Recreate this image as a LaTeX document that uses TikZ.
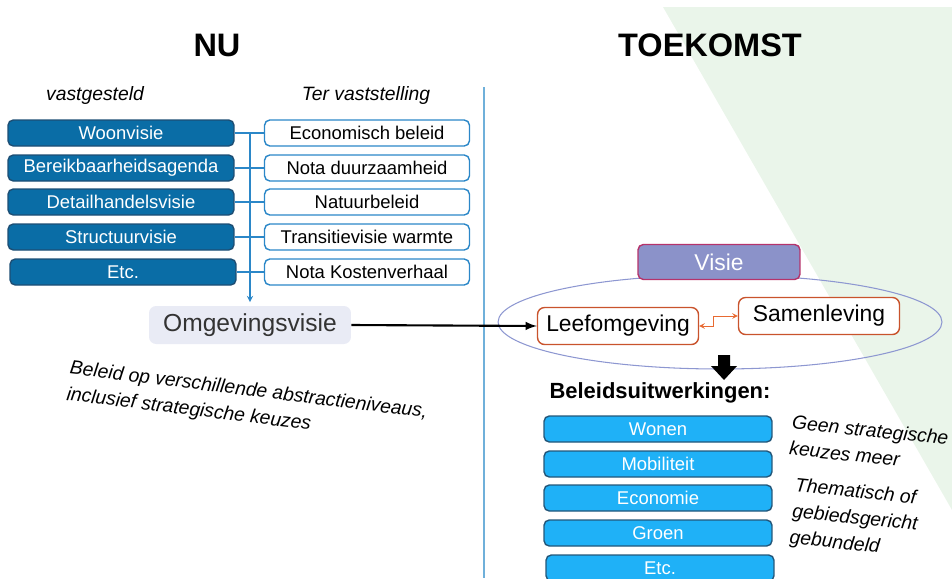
\documentclass[tikz,border=0pt]{standalone}
\usepackage{fontspec}
\setmainfont{Liberation Sans}
\usetikzlibrary{positioning}
\usetikzlibrary{arrows}
\definecolor{nublue}{HTML}{0A6DA6}
\definecolor{nuedge}{HTML}{1D4E74}
\definecolor{terblue}{HTML}{2B87C8}
\definecolor{omgfill}{HTML}{E9EBF5}
\definecolor{leefedge}{HTML}{C9532C}
\definecolor{leefarrow}{HTML}{E86A32}
\definecolor{visiefill}{HTML}{8B92C9}
\definecolor{visieedge}{HTML}{B5336B}
\definecolor{ringcol}{HTML}{8D97D1}
\definecolor{uitblue}{HTML}{1FB1F7}
\definecolor{uitedge}{HTML}{23577A}
\definecolor{toekgreen}{HTML}{EAF5EA}
\definecolor{dividercol}{HTML}{6FB0DA}
\def\fs#1{\fontsize{#1}{#1}\selectfont}
\tikzset{
  fixbox/.style={draw=nuedge,fill=nublue,text=white,rounded corners=3pt,thick,
    minimum width=4.52cm,minimum height=0.52cm,inner sep=0pt,font=\fs{10.5}},
  terbox/.style={draw=terblue,fill=white,rounded corners=3pt,thick,
    minimum width=4.1cm,minimum height=0.52cm,inner sep=0pt,font=\fs{10.5}},
  uitbox/.style={draw=uitedge,fill=uitblue,text=white,rounded corners=3pt,thick,
    minimum width=4.56cm,minimum height=0.52cm,inner sep=0pt,font=\fs{10.5}},
  leefbox/.style={draw=leefedge,fill=white,rounded corners=4pt,thick,
    minimum width=3.22cm,minimum height=0.74cm,inner sep=0pt,font=\fs{13}},
  note/.style={font=\itshape\fontsize{11}{15}\selectfont,align=left,inner sep=0pt},
  heading/.style={font=\bfseries\fs{18.5}},
  link/.style={terblue,semithick}
}
\begin{document}
\begin{tikzpicture}[x=0.02cm,y=-0.02cm]
\useasboundingbox (0,0) rectangle (952,578);
% background of the future side
\fill[toekgreen] (663,7) -- (952,7) -- (952,510) -- cycle;
\draw[dividercol,line width=1.4pt] (484,87) -- (484,578);
\node[heading] (nu) at (217,45) {NU};
\node[heading] (toekomst) at (710,45) {TOEKOMST};
% current situation
\node[font=\itshape\fs{11}] (vast) at (95,96) {vastgesteld};
\node[font=\itshape\fs{11}] (ter) at (366,96) {Ter vaststelling};
\node[fixbox] (woon) at (121,133) {Woonvisie};
\node[fixbox] (bereik) at (121,168) {Bereikbaarheidsagenda};
\node[fixbox] (detail) at (121,202) {Detailhandelsvisie};
\node[fixbox] (struct) at (121,237) {Structuurvisie};
\node[fixbox] (etcnu) at (123,272) {Etc.};
\node[terbox] (econ) at (367,133) {Economisch beleid};
\node[terbox] (duur) at (367,168) {Nota duurzaamheid};
\node[terbox] (natuur) at (367,202) {Natuurbeleid};
\node[terbox] (warmte) at (367,237) {Transitievisie warmte};
\node[terbox] (kosten) at (367,272) {Nota Kostenverhaal};
\node[fill=omgfill,rounded corners=4pt,minimum width=4.04cm,minimum height=0.76cm,
  inner sep=0pt,text=black!80,font=\fs{14}] (omg) at (250,325) {Omgevingsvisie};
\foreach \a/\b in {woon/econ,bereik/duur,detail/natuur,struct/warmte,etcnu/kosten}
  \draw[link] (\a.east) -- (\b.west);
\draw[link,-stealth] (woon.east -| omg.north) -- ([yshift=2pt]omg.north);
\node[note,rotate=-7] (beleid) at (247,404)
  {Beleid op verschillende abstractieniveaus,\\inclusief strategische keuzes};
% future situation
\draw[ringcol,semithick] (720,322) ellipse [x radius=4.44cm, y radius=0.94cm];
\node[draw=visieedge,fill=visiefill,text=white,rounded corners=3pt,thick,
  minimum width=3.24cm,minimum height=0.7cm,inner sep=0pt,font=\fs{13}] (visie) at (719,262) {Visie};
\node[leefbox] (leef) at (618,326) {Leefomgeving};
\node[leefbox] (samen) at (819,316) {Samenleving};
\draw[leefarrow,<->,>=stealth] (leef.east) -- ++(14,0) |- (samen.west);
\draw[-latex,very thick] (omg.east) -- (leef.west);
\fill (718,355) -- (730,355) -- (730,366) -- (737,366) -- (724,380) -- (711,366) -- (718,366) -- cycle;
\node[font=\bfseries\fs{12.5}] (uitw) at (660,393) {Beleidsuitwerkingen:};
\node[uitbox] (wonen) at (658,429) {Wonen};
\node[uitbox] (mobi) at (658,464) {Mobiliteit};
\node[uitbox] (econo) at (658,498) {Economie};
\node[uitbox] (groen) at (658,533) {Groen};
\node[uitbox] (etctoek) at (660,568) {Etc.};
\node[note,rotate=-6] (geen) at (869,443) {Geen strategische\\keuzes meer};
\node[note,rotate=-6] (them) at (855,519) {Thematisch of\\gebiedsgericht\\gebundeld};
\end{tikzpicture}
\end{document}
